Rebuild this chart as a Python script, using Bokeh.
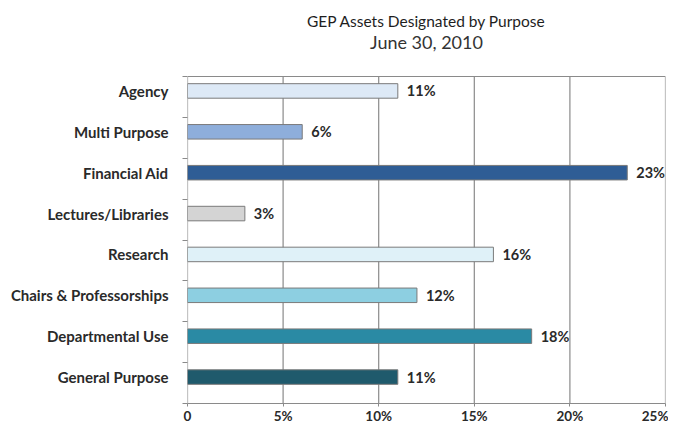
from bokeh.plotting import figure
from bokeh.models import ColumnDataSource, FixedTicker, Range1d
from bokeh.core.properties import value
from bokeh.embed import file_html
from bokeh.resources import INLINE

categories = ["Agency", "Multi Purpose", "Financial Aid", "Lectures/Libraries",
              "Research", "Chairs & Professorships", "Departmental Use", "General Purpose"]
percents = [11, 6, 23, 3, 16, 12, 18, 11]
colors = ["#dde9f6", "#8eaedb", "#2f5d95", "#d4d4d4",
          "#dff1f8", "#8dcfe1", "#2a8aa4", "#1f5a6c"]
x_ticks = [0, 5, 10, 15, 20, 25]
x_tick_labels = ["0", "5%", "10%", "15%", "20%", "25%"]
title_text = "GEP Assets Designated by Purpose"
subtitle_text = "June 30, 2010"

n = len(categories)
x_max = 25
FONT = "Lato"
GRID = "#8a8a8a"
PLOT_H = 327            # height of the bar area in px
TOP = 4                 # frame top in px
BAR_TOP = 76            # top of bar area in px
ppu = PLOT_H / n
extra = (BAR_TOP - TOP) / ppu
shift = 6 / ppu         # bars sit slightly above the centre of their band

ypos = [n - 0.5 - i + shift for i in range(n)]
src = ColumnDataSource(dict(cat=categories, pct=percents, col=colors, y=ypos,
                            lab=[f"{v}%" for v in percents]))

p = figure(title=None, output_backend="svg", toolbar_location=None,
           x_range=Range1d(0, x_max), y_range=Range1d(0, n + extra),
           frame_width=478, frame_height=PLOT_H + BAR_TOP - TOP,
           min_border_left=187, min_border_right=3, min_border_top=TOP, min_border_bottom=18)

# gridlines and plot-area outline drawn inside the data space
inner = x_ticks[1:-1]
p.segment(x0=inner, y0=[0] * len(inner), x1=inner, y1=[n] * len(inner),
          line_color=GRID, line_width=1.2)
p.quad(left=[0], right=[x_max], bottom=[0], top=[n], fill_color=None,
       line_color=GRID, line_width=1.2)

p.hbar(y="y", right="pct", left=0, height=0.355, fill_color="col",
       line_color="#7a7a7a", line_width=1, source=src)
p.text(x="pct", y="y", text="lab", x_offset=9, text_align="left", text_baseline="middle",
       text_font=value(FONT), text_font_size="14.5px", text_font_style="bold",
       text_color="#2a2a2a", source=src)

# titles
p.text(x=[x_max / 2], y=[n + (BAR_TOP - 20) / ppu], text=[title_text],
       text_align="center", text_baseline="middle", text_font=value(FONT),
       text_font_size="15.5px", text_color="#1e1e1e")
p.text(x=[x_max / 2], y=[n + (BAR_TOP - 41) / ppu], text=[subtitle_text],
       text_align="center", text_baseline="middle", text_font=value(FONT),
       text_font_size="18px", text_color="#333333")

# y axis
p.yaxis.ticker = FixedTicker(ticks=ypos, minor_ticks=[float(i) for i in range(n + 1)])
p.yaxis.major_label_overrides = {y: c for y, c in zip(ypos, categories)}
p.yaxis.major_tick_out = 0
p.yaxis.major_tick_in = 0
p.yaxis.minor_tick_out = 5
p.yaxis.minor_tick_in = 0
p.yaxis.minor_tick_line_color = GRID
p.yaxis.axis_line_color = None
p.yaxis.major_label_text_font = FONT
p.yaxis.major_label_text_font_style = "bold"
p.yaxis.major_label_text_font_size = "15px"
p.yaxis.major_label_text_color = "#2a2a2a"
p.yaxis.major_label_standoff = 14

# x axis
p.xaxis.ticker = FixedTicker(ticks=x_ticks)
p.xaxis.major_label_overrides = {t: l for t, l in zip(x_ticks, x_tick_labels)}
p.xaxis.major_tick_out = 3
p.xaxis.major_tick_in = 0
p.xaxis.minor_tick_line_color = None
p.xaxis.major_tick_line_color = GRID
p.xaxis.axis_line_color = GRID
p.xaxis.major_label_text_font = FONT
p.xaxis.major_label_text_font_style = "bold"
p.xaxis.major_label_text_font_size = "13.5px"
p.xaxis.major_label_text_color = "#2a2a2a"
p.xaxis.major_label_standoff = 1

p.xgrid.grid_line_color = None
p.ygrid.grid_line_color = None
p.outline_line_color = None

open("out.html", "w").write(file_html(p, INLINE))
